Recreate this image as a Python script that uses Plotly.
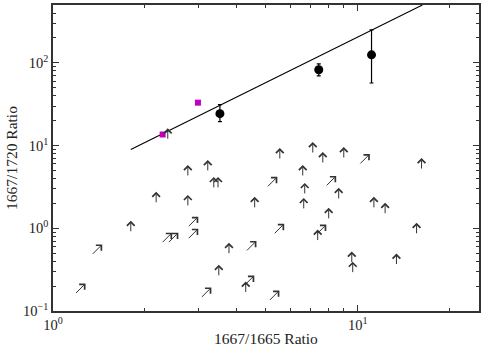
import math
import plotly.graph_objects as go

# lower limits: arrow tails (x, y)
up_x = [2.38, 1.80, 2.18, 2.77, 2.77, 3.22, 3.37, 3.48, 3.78, 3.50, 4.29, 4.59, 5.55, 6.60, 6.70,
        6.65, 7.12, 7.68, 9.00, 8.66, 8.03, 11.3, 12.3, 7.39, 9.56, 9.63, 13.4, 15.6, 16.2]
up_y = [12.1, 0.92, 2.06, 4.35, 1.89, 5.00, 3.12, 3.12, 0.50, 0.27, 0.17, 1.79, 6.97, 4.35, 2.64,
        1.74, 8.24, 6.24, 7.17, 2.30, 1.32, 1.79, 1.52, 0.72, 0.39, 0.295, 0.37, 0.87, 5.28]

diag_x = [1.19, 1.35, 2.29, 2.40, 2.79, 2.79, 3.08, 4.26, 4.33, 5.15, 5.34, 5.07, 7.91, 10.2, 7.34]
diag_y = [0.165, 0.49, 0.68, 0.68, 0.76, 1.06, 0.148, 0.206, 0.54, 0.136, 0.87, 3.21, 3.30, 6.07, 0.85]

# detections with errors
det_x = [3.53, 7.45, 11.1]
det_y = [24.3, 82.4, 125.0]
det_hi = [31.2, 97.0, 250.0]
det_lo = [19.5, 69.7, 57.0]

sq_x = [2.29, 2.99]
sq_y = [13.6, 33.0]

line_x = [1.80, 16.3]
line_y = [8.95, 500.0]

x_tickvals = [1, 10]
x_ticktext = ["10<sup>0</sup>", "10<sup>1</sup>"]
y_tickvals = [0.1, 1, 10, 100]
y_ticktext = ["10<sup>\u22121</sup>", "10<sup>0</sup>", "10<sup>1</sup>", "10<sup>2</sup>"]

FONT = "Liberation Serif"
INK = "#222222"


def minor_vals(lo_exp, hi_exp):
    vals = []
    for e in range(lo_exp, hi_exp + 1):
        for m in range(2, 10):
            vals.append(m * 10 ** e)
    return vals


fig = go.Figure()

fig.add_trace(go.Scatter(x=line_x, y=line_y, mode="lines",
                         line=dict(color="black", width=1.1), showlegend=False))

fig.add_trace(go.Scatter(
    x=det_x, y=det_y, mode="markers",
    marker=dict(color="black", size=9, symbol="circle"),
    error_y=dict(type="data", symmetric=False,
                 array=[h - v for h, v in zip(det_hi, det_y)],
                 arrayminus=[v - l for l, v in zip(det_lo, det_y)],
                 color="black", thickness=1.2, width=2),
    showlegend=False))

fig.add_trace(go.Scatter(x=sq_x, y=sq_y, mode="markers",
                         marker=dict(color="#c000c0", size=6, symbol="square"),
                         showlegend=False))

# head drawn at the offset end (start side), open chevron
arrow_style = dict(text="", showarrow=True, arrowside="start",
                   startarrowhead=4, startarrowsize=1.5, arrowwidth=1, arrowcolor="#333333",
                   xref="x", yref="y", standoff=0, startstandoff=0)

# annotations on log axes take log10 positions
for x, y in zip(up_x, up_y):
    fig.add_annotation(x=math.log10(x), y=math.log10(y), ax=0, ay=-12, **arrow_style)
for x, y in zip(diag_x, diag_y):
    fig.add_annotation(x=math.log10(x), y=math.log10(y), ax=11, ay=-11, **arrow_style)

axis_common = dict(type="log", showgrid=False, zeroline=False, showline=True,
                   linecolor="#333333", linewidth=1.5, mirror="ticks",
                   ticks="inside", ticklen=6, tickwidth=1, tickcolor="#333333",
                   automargin=False,
                   tickfont=dict(family=FONT, size=14.5, color=INK))

fig.update_xaxes(range=[0, 1.398], tickvals=x_tickvals, ticktext=x_ticktext,
                 minor=dict(ticks="inside", ticklen=3, tickcolor="#333333",
                            tickvals=minor_vals(0, 1), showgrid=False),
                 title=dict(text="1667/1665 Ratio", font=dict(family=FONT, size=15.5, color=INK),
                            standoff=1),
                 **axis_common)
fig.update_yaxes(range=[-1, 2.699], tickvals=y_tickvals, ticktext=y_ticktext,
                 minor=dict(ticks="inside", ticklen=3, tickcolor="#333333",
                            tickvals=minor_vals(-1, 2), showgrid=False),
                 title=dict(text="1667/1720 Ratio", font=dict(family=FONT, size=15.5, color=INK),
                            standoff=2),
                 **axis_common)

fig.update_layout(width=485, height=350, margin=dict(l=53, r=6, t=5, b=39),
                  plot_bgcolor="white", paper_bgcolor="white",
                  font=dict(family=FONT, color=INK))

fig.write_html("out.html", config={"displayModeBar": False},
               post_script="document.body.style.margin='0';")
